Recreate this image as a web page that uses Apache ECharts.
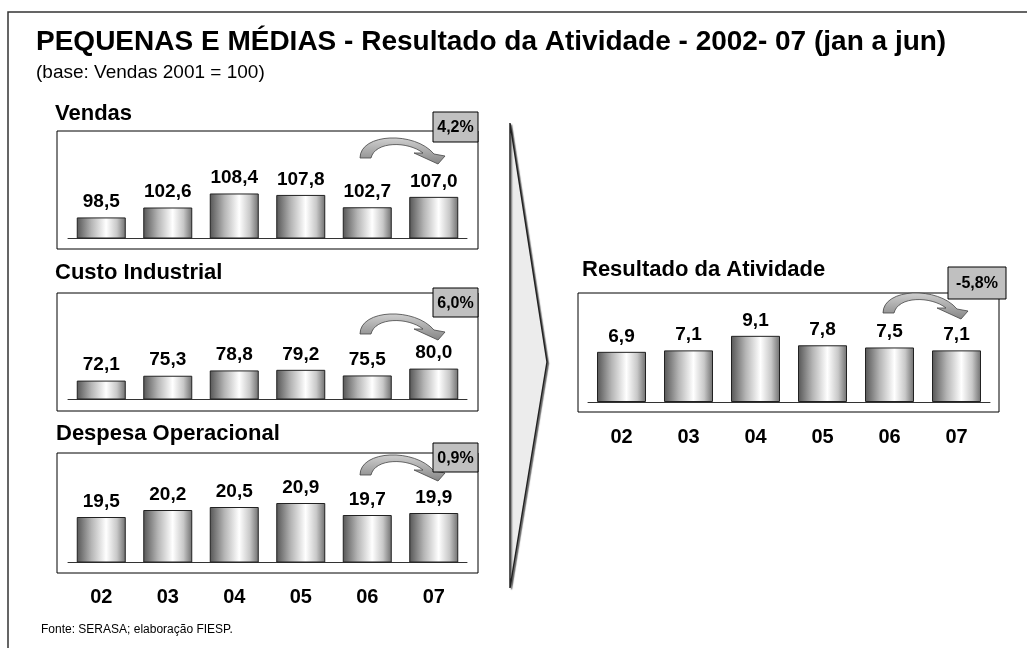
<!DOCTYPE html>
<html>
<head>
<meta charset="utf-8">
<title>Pequenas e Médias - Resultado da Atividade</title>
<script src="https://cdn.jsdelivr.net/npm/echarts@6/dist/echarts.min.js"></script>
<style>
    html, body {margin: 0; padding: 0; background: #fff;}
    #chart {width: 1027px; height: 648px;}
</style>
</head>
<body>
<div id="chart"></div>
<script>
// dados
var anos = ['02', '03', '04', '05', '06', '07'];
var vendas = [98.5, 102.6, 108.4, 107.8, 102.7, 107.0];
var custo = [72.1, 75.3, 78.8, 79.2, 75.5, 80.0];
var despesa = [19.5, 20.2, 20.5, 20.9, 19.7, 19.9];
var resultado = [6.9, 7.1, 9.1, 7.8, 7.5, 7.1];
var variacao = ['4,2%', '6,0%', '0,9%', '-5,8%'];
var paineis = ['Vendas', 'Custo Industrial', 'Despesa Operacional', 'Resultado da Atividade'];

var fonte = 'Liberation Sans, Arial, sans-serif';

// seta curva (06 -> 07)
var setaPath = 'M0 0 C0 -25 55 -27 74 -4 L85 -2 L78 6 L54 -5 L63 -5 C48 -17 15 -17 11 0 Z';
echarts.graphic.registerShape('setaCurva', echarts.graphic.extendPath(setaPath, {}));

function virgula(p) {
    return p.value.toFixed(1).replace('.', ',');
}

var barra = {
    color: new echarts.graphic.LinearGradient(0, 0, 1, 0, [
        {offset: 0, color: '#555555'},
        {offset: 0.3, color: '#b5b5b5'},
        {offset: 0.6, color: '#ffffff'},
        {offset: 0.82, color: '#c8c8c8'},
        {offset: 1, color: '#6e6e6e'}
    ]),
    borderColor: '#222',
    borderWidth: 1
};

function serie(i, dados) {
    return {
        type: 'bar',
        xAxisIndex: i,
        yAxisIndex: i,
        data: dados,
        barWidth: 49,
        itemStyle: barra,
        label: {
            show: true,
            position: 'top',
            distance: 6,
            formatter: virgula,
            fontFamily: fonte,
            fontWeight: 'bold',
            fontSize: 19,
            color: '#000'
        }
    };
}

function eixoX(i, rotulos) {
    return {
        type: 'category',
        gridIndex: i,
        data: anos,
        axisLine: {lineStyle: {color: '#333', width: 1}},
        axisTick: {show: false},
        axisLabel: {
            show: rotulos,
            margin: 25,
            fontFamily: fonte,
            fontWeight: 'bold',
            fontSize: 20,
            color: '#000'
        }
    };
}

function eixoY(i, min, max) {
    return {type: 'value', gridIndex: i, min: min, max: max, show: false, splitLine: {show: false}};
}

function seta(x, y) {
    return {
        type: 'setaCurva',
        x: x, y: y,
        style: {
            fill: {
                type: 'linear', x: 0, y: 0, x2: 0, y2: 1,
                colorStops: [{offset: 0, color: '#d0d0d0'}, {offset: 1, color: '#858585'}]
            },
            stroke: '#444',
            lineWidth: 0.8
        },
        z: 10
    };
}

function caixa(x, y, w, h) {
    return {type: 'rect', shape: {x: x, y: y, width: w, height: h}, style: {fill: 'none', stroke: '#000', lineWidth: 1}, z: 5};
}

function etiqueta(x, y, w, h, texto) {
    return [
        {type: 'rect', z: 20, shape: {x: x, y: y, width: w, height: h}, style: {fill: '#c0c0c0', stroke: '#000', lineWidth: 1}},
        {type: 'text', z: 21, x: x + w / 2, y: y + h / 2 + 1, style: {text: texto, align: 'center', verticalAlign: 'middle', font: 'bold 16px ' + fonte, fill: '#000'}}
    ];
}

function tituloPainel(x, y, texto) {
    return {type: 'text', x: x, y: y, style: {text: texto, verticalAlign: 'middle', font: 'bold 22px ' + fonte, fill: '#000'}};
}

var graficos = [
    // moldura externa
    {type: 'rect', shape: {x: 8, y: 12, width: 1040, height: 660}, style: {fill: 'none', stroke: '#333', lineWidth: 1.5}},
    // seta grande
    {type: 'polygon', shape: {points: [[510, 123], [547, 362], [510, 588]]},
        style: {fill: '#ececec', stroke: '#222', lineWidth: 1.5, shadowColor: 'rgba(0,0,0,0.45)', shadowOffsetX: 1.5, shadowOffsetY: 1.5, shadowBlur: 1}},
    caixa(57, 131, 421, 118),
    caixa(57, 293, 421, 118),
    caixa(57, 453, 421, 120),
    caixa(578, 293, 421, 119),
    tituloPainel(55, 114, paineis[0]),
    tituloPainel(55, 273, paineis[1]),
    tituloPainel(56, 434, paineis[2]),
    tituloPainel(582, 270, paineis[3]),
    seta(360, 158),
    seta(360, 334),
    seta(360, 475),
    seta(883, 313),
    {type: 'text', x: 41, y: 630, style: {text: 'Fonte: SERASA; elaboração FIESP.', verticalAlign: 'middle', font: '12px ' + fonte, fill: '#000'}}
].concat(
    etiqueta(433, 112, 45, 30, variacao[0]),
    etiqueta(433, 288, 45, 29, variacao[1]),
    etiqueta(433, 443, 45, 29, variacao[2]),
    etiqueta(948, 267, 58, 32, variacao[3])
);

var option = {
    animation: false,
    title: {
        text: 'PEQUENAS E MÉDIAS - Resultado da Atividade - 2002- 07 (jan a jun)',
        subtext: '(base: Vendas 2001 = 100)',
        left: 36,
        top: 28,
        padding: 0,
        itemGap: 7,
        textStyle: {fontFamily: fonte, fontWeight: 'bold', fontSize: 28, color: '#000'},
        subtextStyle: {fontFamily: fonte, fontSize: 19, color: '#000'}
    },
    grid: [
        {left: 68, width: 399, top: 177.5, height: 60.5},
        {left: 68, width: 399, top: 338.2, height: 60.8},
        {left: 68, width: 399, top: 492, height: 70},
        {left: 588, width: 402, top: 329.3, height: 72.7}
    ],
    xAxis: [eixoX(0, false), eixoX(1, false), eixoX(2, true), eixoX(3, true)],
    yAxis: [eixoY(0, 90, 115), eixoY(1, 60, 100), eixoY(2, 15, 22), eixoY(3, 0, 10)],
    series: [serie(0, vendas), serie(1, custo), serie(2, despesa), serie(3, resultado)],
    graphic: graficos
};

var chart = echarts.init(document.getElementById('chart'));
chart.setOption(option);
</script>
</body>
</html>
